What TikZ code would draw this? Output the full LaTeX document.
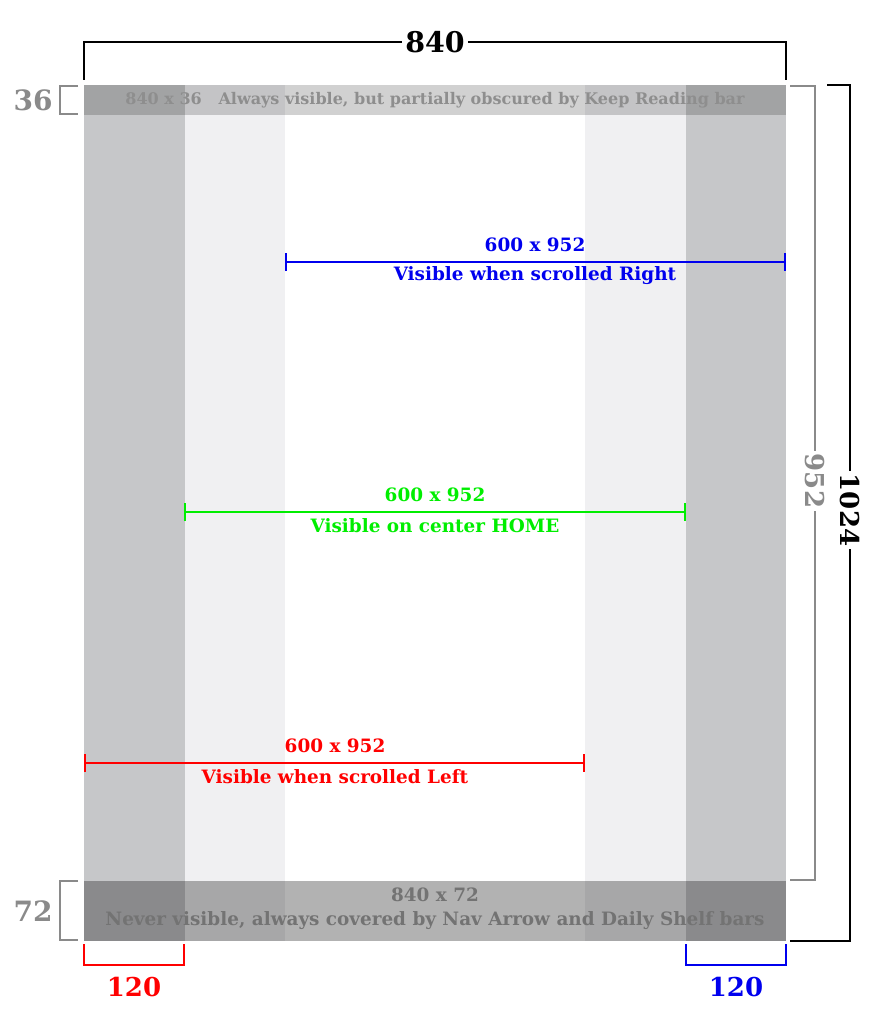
\documentclass[tikz,border=0pt]{standalone}
\usepackage{fontspec}
\setmainfont{DejaVu Serif}
\usetikzlibrary{arrows.meta,positioning,calc}
\definecolor{darkcol}{HTML}{C6C7C9}
\definecolor{lightcol}{HTML}{F0F0F2}
\definecolor{dimgray}{HTML}{8A8A8A}
\definecolor{bargray}{HTML}{8E8E8E}
\definecolor{vblue}{HTML}{0000EE}
\definecolor{vgreen}{HTML}{00EE00}
\definecolor{vred}{HTML}{FF0000}

\begin{document}
\begin{tikzpicture}[x=1pt,y=-1pt,
  lbl/.style={font=\bfseries\fontsize{18.4}{24}\selectfont, inner sep=0pt},
  bartext/.style={font=\bfseries\fontsize{16}{24}\selectfont, inner sep=0pt, align=center},
  bignum/.style={font=\bfseries\fontsize{26}{26}\selectfont, inner sep=3pt},
  meas/.style={line width=2.2pt, {Bar[width=18pt]}-{Bar[width=18pt]}},
  brk/.style={line width=2pt}
]
\useasboundingbox (0,0) rectangle (870,1024);
\fill[darkcol] (84,85) rectangle (184.5,941);
\fill[lightcol] (184.5,85) rectangle (285,941);
\fill[lightcol] (585,85) rectangle (686,941);
\fill[darkcol] (686,85) rectangle (786,941);
\fill[black, opacity=0.18] (84,85) rectangle (786,115);
\fill[black, opacity=0.3] (84,881) rectangle (786,941);

\node[bartext, text=bargray] (topbar) at (435,100) {840 x 36\ \ \ Always visible, but partially obscured by Keep Reading bar};
\node[bartext, text=black!55, font=\bfseries\fontsize{18.4}{24}\selectfont] (botbar) at (435,909) {840 x 72\\Never visible, always covered by Nav Arrow and Daily Shelf bars};

\coordinate (r1) at (285,262);
\coordinate (r2) at (786,262);
\draw[meas, vblue] (r1) -- (r2);
\node[lbl, text=vblue] (rsize) at (535,245) {600 x 952};
\node[lbl, text=vblue] (rtext) at (535,276) {Visible when scrolled Right};

\coordinate (c1) at (184,512);
\coordinate (c2) at (686,512);
\draw[meas, vgreen] (c1) -- (c2);
\node[lbl, text=vgreen] (csize) at (435,495) {600 x 952};
\node[lbl, text=vgreen] (ctext) at (435,526) {Visible on center HOME};

\coordinate (l1) at (84,763);
\coordinate (l2) at (585,763);
\draw[meas, vred] (l1) -- (l2);
\node[lbl, text=vred] (lsize) at (335,746) {600 x 952};
\node[lbl, text=vred] (ltext) at (335,777) {Visible when scrolled Left};

\node[bignum, font=\bfseries\fontsize{28.5}{28.5}\selectfont] (w840) at (435,42) {840};
\coordinate (tl) at (84,80);
\coordinate (tr) at (786,80);
\draw[brk] (tl) |- (w840.west);
\draw[brk] (w840.east) -| (tr);

\node[bignum, text=dimgray, font=\bfseries\fontsize{28}{28}\selectfont] (h36) at (33,100) {36};
\draw[brk, dimgray] (78,86) -| (60,114) -- (78,114);
\node[bignum, text=dimgray, font=\bfseries\fontsize{28}{28}\selectfont] (h72) at (33,911) {72};
\draw[brk, dimgray] (78,881) -| (60,940) -- (78,940);

\node[bignum, text=dimgray, rotate=-90] (h952) at (815,481) {952};
\draw[brk, dimgray] (790,86) -| (h952.west);
\draw[brk, dimgray] (h952.east) |- (790,880);
\node[bignum, rotate=-90] (h1024) at (850,510) {1024};
\draw[brk] (827,85) -| (h1024.west);
\draw[brk] (h1024.east) |- (790,941);

\coordinate (lb1) at (84,944);
\coordinate (lb2) at (184,944);
\draw[brk, vred] (lb1) |- (134,965) -| (lb2);
\node[bignum, text=vred] (w120l) at (134,987) {120};
\coordinate (rb1) at (686,944);
\coordinate (rb2) at (786,944);
\draw[brk, vblue] (rb1) |- (736,965) -| (rb2);
\node[bignum, text=vblue] (w120r) at (736,987) {120};
\end{tikzpicture}
\end{document}
